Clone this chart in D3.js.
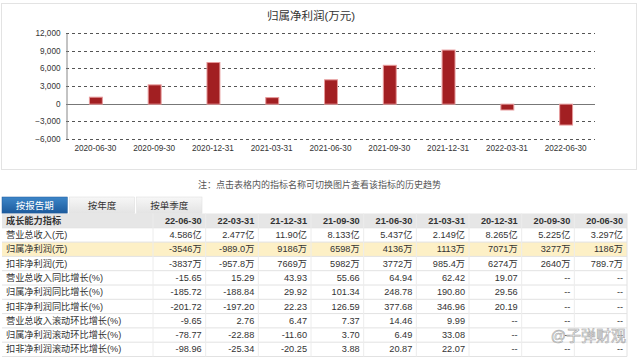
<!DOCTYPE html>
<html>
<head>
<meta charset="utf-8">
<script src="https://cdn.jsdelivr.net/npm/d3@7/dist/d3.min.js"></script>
<style>
    body { margin: 0; background: #fff; }
    svg { display: block; font-family: "Liberation Sans", "Noto Sans CJK SC", sans-serif; }
</style>
</head>
<body>
<svg width="640" height="357"></svg>
<script>
    "use strict";

    // chart data (万元)
    var periods = ["2020-06-30", "2020-09-30", "2020-12-31", "2021-03-31",
        "2021-06-30", "2021-09-30", "2021-12-31", "2022-03-31", "2022-06-30"];
    var profit = [1186, 3277, 7071, 1113, 4136, 6598, 9186, -989, -3546];
    var yTicks = [-6000, -3000, 0, 3000, 6000, 9000, 12000];

    // table data
    var tabs = ["按报告期", "按年度", "按单季度"];
    var columns = ["22-06-30", "22-03-31", "21-12-31", "21-09-30", "21-06-30",
        "21-03-31", "20-12-31", "20-09-30", "20-06-30"];
    var rowNames = ["营业总收入(元)", "归属净利润(元)", "扣非净利润(元)",
        "营业总收入同比增长(%)", "归属净利润同比增长(%)", "扣非净利润同比增长(%)",
        "营业总收入滚动环比增长(%)", "归属净利润滚动环比增长(%)",
        "扣非净利润滚动环比增长(%)"];
    var revenue = ["4.586亿", "2.477亿", "11.90亿", "8.133亿", "5.437亿",
        "2.149亿", "8.265亿", "5.225亿", "3.297亿"];
    var netProfit = ["-3546万", "-989.0万", "9186万", "6598万", "4136万",
        "1113万", "7071万", "3277万", "1186万"];
    var deductedProfit = ["-3837万", "-957.8万", "7669万", "5982万", "3772万",
        "985.4万", "6274万", "2640万", "789.7万"];
    var revenueYoy = ["-15.65", "15.29", "43.93", "55.66", "64.94", "62.42",
        "19.07", "--", "--"];
    var netProfitYoy = ["-185.72", "-188.84", "29.92", "101.34", "248.78",
        "190.80", "29.56", "--", "--"];
    var deductedYoy = ["-201.72", "-197.20", "22.23", "126.59", "377.68",
        "346.96", "20.19", "--", "--"];
    var revenueQoq = ["-9.65", "2.76", "6.47", "7.37", "14.46", "9.99",
        "--", "--", "--"];
    var netProfitQoq = ["-78.77", "-22.88", "-11.60", "3.70", "6.49", "33.08",
        "--", "--", "--"];
    var deductedQoq = ["-98.96", "-25.34", "-20.25", "3.88", "20.87", "22.07",
        "--", "--", "--"];
    var rows = [revenue, netProfit, deductedProfit, revenueYoy, netProfitYoy,
        deductedYoy, revenueQoq, netProfitQoq, deductedQoq];

    var svg = d3.select("svg");

    // ---- chart box
    svg.append("rect")
        .attr("x", 1.5).attr("y", 3.5)
        .attr("width", 635).attr("height", 166)
        .attr("fill", "#fff")
        .attr("stroke", "#e3e3e3");

    svg.append("text")
        .attr("x", 311).attr("y", 20)
        .attr("text-anchor", "middle")
        .attr("font-size", 11.5)
        .attr("fill", "#333")
        .text("归属净利润(万元)");

    var margin = {left: 66, right: 595, top: 33, bottom: 139};

    var x = d3.scaleBand()
        .domain(periods)
        .range([margin.left, margin.right])
        .paddingInner(0.78)
        .paddingOuter(0.39);

    var y = d3.scaleLinear()
        .domain([-6000, 12000])
        .range([margin.bottom, margin.top]);

    // grid
    svg.append("g")
        .selectAll("line")
        .data(yTicks)
        .join("line")
        .attr("x1", margin.left).attr("x2", margin.right)
        .attr("y1", function (d) { return Math.round(y(d)) + 0.5; })
        .attr("y2", function (d) { return Math.round(y(d)) + 0.5; })
        .attr("stroke", function (d) { return d === 0 ? "#777" : "#555"; })
        .attr("stroke-width", 1)
        .attr("stroke-dasharray", function (d) { return d === 0 ? null : "3,3"; });

    var yAxis = d3.axisLeft(y)
        .tickValues(yTicks)
        .tickSize(0)
        .tickPadding(6)
        .tickFormat(d3.format(","));
    var yg = svg.append("g")
        .attr("transform", "translate(" + (margin.left + 0.5) + ",0)")
        .call(yAxis);
    yg.select(".domain").attr("stroke", "#888");
    yg.selectAll("text").attr("font-size", 8.2).attr("fill", "#333")
        .attr("font-family", "Liberation Sans, sans-serif");

    var xAxis = d3.axisBottom(x).tickSize(0).tickPadding(6);
    var xg = svg.append("g")
        .attr("transform", "translate(0," + margin.bottom + ")")
        .call(xAxis);
    xg.select(".domain").remove();
    xg.selectAll("text").attr("font-size", 8.2).attr("fill", "#333")
        .attr("font-family", "Liberation Sans, sans-serif");

    // bars
    svg.append("g")
        .selectAll("rect")
        .data(profit)
        .join("rect")
        .attr("x", function (d, i) { return x(periods[i]) + 0.5; })
        .attr("y", function (d) { return y(Math.max(d, 0)) + 0.5; })
        .attr("width", x.bandwidth())
        .attr("height", function (d) { return Math.abs(y(d) - y(0)); })
        .attr("fill", "#a21f22")
        .attr("stroke", "#e79a9b")
        .attr("stroke-width", 1);

    // note
    svg.append("text")
        .attr("x", 198).attr("y", 188)
        .attr("font-size", 9)
        .attr("fill", "#555")
        .text("注：点击表格内的指标名称可切换图片查看该指标的历史趋势");

    // ---- tabs
    var tabX = d3.scaleBand().domain(tabs).range([2, 202]).paddingInner(0.03);
    var defs = svg.append("defs");
    var gBlue = defs.append("linearGradient").attr("id", "tabBlue")
        .attr("x1", 0).attr("y1", 0).attr("x2", 0).attr("y2", 1);
    gBlue.append("stop").attr("offset", 0).attr("stop-color", "#3d86c8");
    gBlue.append("stop").attr("offset", 1).attr("stop-color", "#1c5a9c");
    var gGray = defs.append("linearGradient").attr("id", "tabGray")
        .attr("x1", 0).attr("y1", 0).attr("x2", 0).attr("y2", 1);
    gGray.append("stop").attr("offset", 0).attr("stop-color", "#f7f7f7");
    gGray.append("stop").attr("offset", 1).attr("stop-color", "#e3e3e3");

    var tabG = svg.append("g").selectAll("g").data(tabs).join("g");
    tabG.append("rect")
        .attr("x", function (d) { return tabX(d); })
        .attr("y", 197)
        .attr("width", tabX.bandwidth())
        .attr("height", 16.5)
        .attr("fill", function (d, i) { return i === 0 ? "url(#tabBlue)" : "url(#tabGray)"; })
        .attr("stroke", function (d, i) { return i === 0 ? "#1c5a9c" : "#dcdcdc"; })
        .attr("stroke-width", 0.5);
    tabG.append("text")
        .attr("x", function (d) { return tabX(d) + tabX.bandwidth() / 2; })
        .attr("y", 209)
        .attr("text-anchor", "middle")
        .attr("font-size", 9.5)
        .attr("fill", function (d, i) { return i === 0 ? "#fff" : "#333"; })
        .text(function (d) { return d; });

    // ---- table
    var tableTop = 213.5;
    var rowH = 14.3;
    var labelRight = 153;
    var colX = d3.scaleBand().domain(columns).range([labelRight, 627]);
    var tableW = 627 - 2;

    svg.append("rect")
        .attr("x", 2).attr("y", tableTop)
        .attr("width", tableW).attr("height", rowH)
        .attr("fill", "#e6e6e6");
    svg.append("rect")
        .attr("x", 2).attr("y", tableTop + rowH * 2)
        .attr("width", tableW).attr("height", rowH)
        .attr("fill", "#fdf0c6");

    // horizontal separators
    svg.append("g").selectAll("line")
        .data(d3.range(1, rowNames.length + 2))
        .join("line")
        .attr("x1", 2).attr("x2", 2 + tableW)
        .attr("y1", function (d) { return tableTop + d * rowH; })
        .attr("y2", function (d) { return tableTop + d * rowH; })
        .attr("stroke", "#e2e2e2");

    // vertical separators
    svg.append("g").selectAll("line")
        .data(columns)
        .join("line")
        .attr("x1", function (d) { return colX(d); })
        .attr("x2", function (d) { return colX(d); })
        .attr("y1", tableTop)
        .attr("y2", tableTop + rowH * (rowNames.length + 1))
        .attr("stroke", "#ececec");
    svg.append("line")
        .attr("x1", 2 + tableW).attr("x2", 2 + tableW)
        .attr("y1", tableTop).attr("y2", tableTop + rowH * (rowNames.length + 1))
        .attr("stroke", "#e2e2e2");

    // header text
    svg.append("text")
        .attr("x", 6).attr("y", tableTop + 10.3)
        .attr("font-size", 9.2).attr("font-weight", "bold").attr("fill", "#333")
        .text("成长能力指标");
    svg.append("g").selectAll("text")
        .data(columns)
        .join("text")
        .attr("x", function (d) { return colX(d) + colX.bandwidth() - 4; })
        .attr("y", tableTop + 10.3)
        .attr("text-anchor", "end")
        .attr("font-size", 9.2).attr("font-weight", "bold").attr("fill", "#333")
        .text(function (d) { return d; });

    // body
    var rowG = svg.append("g").selectAll("g")
        .data(rows)
        .join("g")
        .attr("transform", function (d, i) {
            return "translate(0," + (tableTop + rowH * (i + 1)) + ")";
        });
    rowG.append("text")
        .attr("x", 6).attr("y", 10.3)
        .attr("font-size", 9.2)
        .attr("fill", "#333")
        .text(function (d, i) { return rowNames[i]; });
    rowG.selectAll("text.v")
        .data(function (d) { return d; })
        .join("text")
        .attr("class", "v")
        .attr("x", function (d, j) { return colX(columns[j]) + colX.bandwidth() - 4; })
        .attr("y", 10.3)
        .attr("text-anchor", "end")
        .attr("font-size", 9.2)
        .attr("fill", "#333")
        .text(function (d) { return d; });

    // watermark
    svg.append("text")
        .attr("x", 626).attr("y", 341)
        .attr("text-anchor", "end")
        .attr("font-size", 15)
        .attr("fill", "#fff")
        .attr("stroke", "#9a9a9a")
        .attr("stroke-width", 0.6)
        .attr("opacity", 0.85)
        .text("@子弹财观");
</script>
</body>
</html>
